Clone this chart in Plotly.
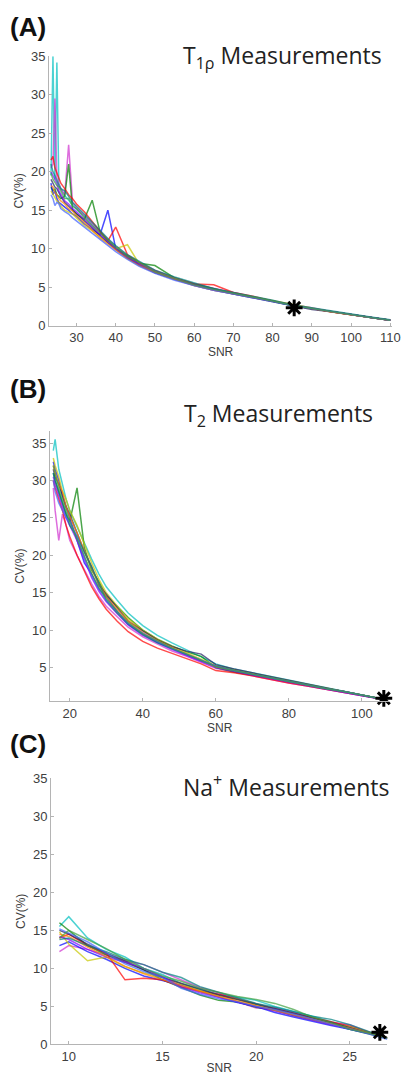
import plotly.graph_objects as go

# ---- data (SNR vs CV%) ----
A_SNR = [23.5, 24, 24.5, 25, 25.5, 26, 27, 28, 29, 30, 32, 34, 36, 38, 40, 43, 46, 50,
         55, 60, 65, 70, 75, 80, 85, 90, 95, 100, 105, 110]
A_CV = [
    [19.5, 35.0, 19.0, 34.2, 18.5, 17.8, 16.9, 16.3, 15.7, 15.1, 14.2, 13.1, 12.2, 11.1, 10.2, 9.0, 8.1, 7.1, 6.2, 5.4, 4.8, 4.2, 3.7, 3.2, 2.6, 2.2, 1.8, 1.4, 1.05, 0.7],
    [20.5, 21.0, 29.5, 19.2, 18.4, 17.8, 17.0, 23.5, 16.0, 15.3, 14.3, 13.2, 12.2, 11.2, 10.3, 9.1, 8.2, 7.2, 6.2, 5.4, 4.8, 4.3, 3.7, 3.2, 2.7, 2.3, 1.8, 1.4, 1.05, 0.7],
    [18.0, 17.5, 17.8, 17.0, 16.8, 16.5, 16.8, 21.0, 15.0, 14.5, 13.8, 16.3, 12.2, 11.0, 10.0, 9.0, 8.1, 7.8, 6.2, 5.4, 4.8, 4.2, 3.7, 3.2, 2.6, 2.2, 1.8, 1.4, 1.05, 0.7],
    [18.5, 17.0, 17.5, 16.5, 16.0, 15.8, 15.5, 15.0, 14.5, 14.2, 13.2, 12.5, 11.8, 15.0, 10.0, 8.8, 7.9, 6.9, 6.0, 5.2, 4.6, 4.1, 3.6, 3.1, 2.6, 2.2, 1.8, 1.4, 1.05, 0.7],
    [21.5, 22.0, 20.5, 19.8, 19.0, 18.5, 17.8, 17.0, 16.5, 15.8, 14.8, 13.5, 12.3, 11.0, 12.8, 9.2, 8.2, 7.1, 6.2, 5.4, 5.3, 4.3, 3.8, 3.2, 2.7, 2.2, 1.8, 1.4, 1.05, 0.7],
    [17.5, 17.0, 16.5, 16.2, 16.0, 15.5, 15.0, 14.8, 14.5, 14.0, 13.0, 12.3, 11.5, 10.8, 10.0, 10.5, 8.0, 7.0, 6.1, 5.3, 4.7, 4.2, 3.7, 3.2, 2.7, 2.2, 1.8, 1.4, 1.05, 0.7],
    [19.0, 18.5, 18.0, 17.8, 17.2, 16.8, 16.0, 15.5, 15.0, 14.6, 13.6, 12.7, 11.7, 10.8, 9.9, 8.8, 7.9, 6.9, 6.0, 5.3, 4.7, 4.1, 3.6, 3.1, 2.6, 2.1, 1.8, 1.4, 1.05, 0.7],
    [20.0, 19.5, 19.0, 18.5, 17.5, 17.0, 16.2, 15.8, 15.2, 14.8, 13.8, 12.9, 11.9, 10.9, 10.0, 8.9, 8.0, 7.0, 6.1, 5.3, 4.7, 4.2, 3.7, 3.2, 2.6, 2.2, 1.8, 1.4, 1.05, 0.7],
    [18.2, 18.0, 17.3, 17.0, 16.5, 16.2, 15.8, 15.2, 14.9, 14.3, 13.4, 12.4, 11.4, 10.6, 9.8, 8.7, 7.8, 6.9, 6.0, 5.2, 4.6, 4.1, 3.6, 3.1, 2.6, 2.2, 1.75, 1.4, 1.05, 0.7],
    [21.0, 20.0, 19.5, 18.8, 18.2, 17.8, 17.5, 16.8, 16.0, 15.5, 14.5, 13.4, 12.4, 11.3, 10.4, 9.2, 8.3, 7.2, 6.3, 5.5, 4.8, 4.3, 3.8, 3.3, 2.7, 2.3, 1.85, 1.45, 1.1, 0.75],
    [17.0, 16.5, 15.6, 16.0, 15.8, 15.2, 14.8, 14.5, 14.0, 13.6, 12.8, 12.0, 11.2, 10.4, 9.6, 8.6, 7.7, 6.8, 5.9, 5.2, 4.6, 4.1, 3.6, 3.1, 2.6, 2.2, 1.8, 1.4, 1.05, 0.7],
    [19.8, 19.0, 18.6, 18.2, 18.0, 17.5, 16.5, 16.5, 15.5, 15.2, 14.0, 13.0, 12.0, 11.1, 10.2, 9.0, 8.2, 7.0, 6.1, 5.3, 4.7, 4.2, 3.7, 3.2, 2.6, 2.2, 1.8, 1.4, 1.05, 0.7],
]
A_STAR = (85.5, 2.3)

B_SNR = [15.5, 16, 17, 18, 19, 20, 22, 24, 26, 28, 30, 33, 36, 40, 44, 48, 52, 56, 60,
         65, 70, 75, 80, 85, 90, 95, 100, 104, 106.5]
B_CV = [
    [34.0, 35.5, 31.5, 29.5, 27.5, 26.0, 23.8, 21.6, 19.5, 17.5, 15.8, 14.0, 12.3, 10.6, 9.3, 8.3, 7.4, 6.5, 5.5, 4.8, 4.3, 3.8, 3.3, 2.8, 2.3, 1.85, 1.35, 0.95, 0.7],
    [29.0, 26.0, 22.0, 25.5, 24.0, 22.0, 20.0, 18.0, 16.2, 14.5, 13.2, 11.8, 10.4, 9.1, 8.1, 7.2, 6.5, 5.7, 4.9, 4.4, 3.9, 3.4, 2.95, 2.55, 2.1, 1.7, 1.25, 0.9, 0.7],
    [31.0, 30.0, 28.5, 27.0, 25.5, 24.5, 29.0, 21.0, 18.0, 16.5, 14.6, 13.2, 11.7, 10.0, 8.8, 7.9, 7.1, 6.5, 5.0, 4.4, 4.0, 3.6, 3.1, 2.7, 2.2, 1.8, 1.3, 0.95, 0.7],
    [32.5, 31.5, 30.0, 28.0, 26.5, 25.0, 22.0, 19.0, 17.5, 15.5, 14.5, 12.5, 10.8, 9.5, 8.4, 7.5, 6.7, 5.9, 5.2, 4.6, 4.1, 3.6, 3.1, 2.7, 2.2, 1.8, 1.3, 0.95, 0.7],
    [30.0, 29.0, 27.5, 26.0, 24.0, 22.5, 20.0, 17.8, 15.8, 14.2, 12.8, 11.2, 9.8, 8.5, 7.6, 6.9, 6.2, 5.5, 4.6, 4.3, 3.9, 3.4, 2.95, 2.55, 2.1, 1.7, 1.25, 0.9, 0.7],
    [33.0, 32.0, 30.5, 28.5, 27.5, 26.0, 24.0, 21.5, 19.0, 16.8, 15.0, 13.2, 11.5, 10.0, 8.8, 7.8, 7.0, 6.2, 5.3, 4.7, 4.2, 3.7, 3.2, 2.75, 2.25, 1.8, 1.35, 0.95, 0.7],
    [31.5, 30.5, 29.5, 28.0, 26.5, 25.5, 23.0, 20.5, 18.5, 16.0, 14.8, 13.0, 11.2, 9.9, 8.7, 7.8, 7.2, 6.8, 5.4, 4.8, 4.3, 3.8, 3.2, 2.8, 2.25, 1.8, 1.3, 0.95, 0.7],
    [30.5, 29.5, 28.0, 26.5, 25.0, 24.0, 22.0, 19.5, 17.0, 15.2, 13.8, 12.2, 10.7, 9.3, 8.3, 7.4, 6.6, 5.8, 5.0, 4.5, 4.0, 3.5, 3.0, 2.6, 2.15, 1.75, 1.25, 0.9, 0.7],
    [32.0, 31.0, 29.5, 28.5, 26.5, 25.2, 23.0, 20.5, 18.2, 16.2, 14.5, 12.8, 11.2, 9.7, 8.6, 7.7, 6.9, 6.0, 5.1, 4.6, 4.1, 3.6, 3.1, 2.7, 2.2, 1.8, 1.3, 0.95, 0.7],
    [31.0, 30.0, 28.5, 27.0, 25.5, 24.0, 22.5, 20.5, 18.5, 16.3, 14.0, 12.3, 10.8, 9.4, 8.3, 7.5, 6.8, 6.0, 5.2, 4.6, 4.1, 3.6, 3.1, 2.7, 2.2, 1.8, 1.3, 0.95, 0.7],
    [30.0, 28.5, 27.0, 26.0, 25.0, 24.5, 22.5, 19.8, 17.2, 15.5, 14.0, 12.5, 10.9, 9.6, 8.5, 7.6, 6.8, 5.9, 5.2, 4.6, 4.1, 3.6, 3.1, 2.7, 2.2, 1.8, 1.3, 0.95, 0.7],
    [32.0, 31.0, 29.0, 27.5, 26.0, 24.5, 22.2, 19.8, 17.6, 15.7, 14.2, 12.5, 11.0, 9.5, 8.5, 7.6, 6.8, 6.0, 5.1, 4.6, 4.1, 3.6, 3.1, 2.7, 2.2, 1.8, 1.3, 0.95, 0.7],
]
B_STAR = (106.0, 0.9)

C_SNR = [9.5, 10, 11, 12, 13, 14, 15, 16, 17, 18, 19, 20, 21, 22, 23, 24, 25, 26, 26.5, 27]
C_CV = [
    [15.5, 16.8, 14.0, 12.5, 11.5, 10.0, 9.2, 8.0, 7.3, 6.6, 6.2, 5.8, 5.0, 4.4, 3.7, 3.0, 2.3, 1.6, 1.2, 0.9],
    [12.2, 13.0, 12.5, 11.8, 11.0, 10.5, 9.5, 8.5, 7.5, 6.8, 5.6, 4.8, 4.8, 4.2, 3.4, 2.9, 2.6, 1.6, 1.2, 0.9],
    [16.0, 15.0, 13.0, 11.8, 10.8, 9.8, 8.5, 7.5, 6.5, 5.8, 5.6, 4.9, 4.5, 3.8, 3.3, 2.7, 2.0, 1.4, 1.1, 0.8],
    [13.0, 13.5, 12.2, 11.2, 10.0, 9.0, 8.4, 7.8, 7.0, 6.2, 5.5, 5.0, 4.2, 3.6, 3.1, 2.5, 2.0, 1.5, 1.2, 0.9],
    [14.0, 14.5, 13.0, 12.0, 8.5, 8.7, 8.5, 7.6, 7.0, 6.6, 6.0, 5.3, 4.7, 4.1, 3.6, 3.0, 2.4, 1.6, 1.3, 0.9],
    [14.8, 13.2, 11.0, 11.5, 10.2, 9.4, 8.8, 7.9, 7.1, 6.4, 5.9, 5.2, 4.6, 4.0, 3.5, 2.8, 2.3, 1.6, 1.2, 0.9],
    [15.0, 14.5, 13.2, 12.0, 11.0, 9.8, 8.8, 8.0, 7.3, 6.5, 5.9, 5.3, 4.7, 4.1, 3.5, 2.9, 2.2, 1.5, 1.1, 0.8],
    [14.2, 13.8, 12.5, 11.5, 10.8, 10.0, 8.9, 7.6, 6.8, 6.2, 5.6, 5.0, 4.4, 3.8, 3.2, 2.6, 2.1, 1.4, 1.1, 0.8],
    [14.5, 14.2, 12.8, 11.5, 10.3, 9.3, 8.5, 7.8, 7.0, 6.3, 5.7, 5.1, 4.5, 3.9, 3.3, 2.7, 2.1, 1.5, 1.2, 0.9],
    [13.8, 14.0, 13.0, 12.2, 11.2, 10.5, 9.5, 8.8, 7.6, 6.9, 6.2, 5.4, 4.9, 4.3, 3.7, 3.3, 2.6, 1.7, 1.3, 0.9],
    [15.2, 14.6, 13.5, 12.0, 10.6, 9.6, 8.8, 7.4, 6.6, 6.0, 5.6, 5.0, 4.6, 4.0, 3.3, 2.6, 2.0, 1.4, 1.0, 0.7],
    [14.0, 15.0, 13.8, 12.6, 11.2, 10.0, 9.0, 8.3, 7.4, 6.8, 6.3, 5.9, 5.4, 4.6, 3.6, 2.9, 2.0, 1.5, 1.2, 0.8],
]
C_STAR = (26.6, 1.6)

LINE_COLORS = ["#00c0c0", "#d030d0", "#008000", "#0000ff", "#ff0000", "#c8c800",
               "#202060", "#8000ff", "#ff8000", "#008080", "#4060ff", "#40a040"]

TITLES = ["T<sub>1ρ</sub> Measurements", "T<sub>2</sub> Measurements", "Na<sup>+</sup> Measurements"]
LABELS = ["(A)", "(B)", "(C)"]

W, H = 412, 1087

# pixel boxes of each axes: (left, right, top, bottom)
boxes = [(50, 400, 50, 323), (51, 397, 430, 704), (52, 395, 782, 1052)]
xranges = [[23, 110.5], [14.6, 107.5], [9.05, 27]]
yranges = [[0, 35], [0.5, 36.6], [0, 35]]
xticks = [list(range(30, 111, 10)), list(range(20, 101, 20)), [10, 15, 20, 25]]
yticks = [list(range(0, 36, 5)), list(range(5, 36, 5)), list(range(0, 36, 5))]
title_pos = [(392, 50), (382, 413), (400, 790)]
label_pos = [(8, 20), (8, 387), (8, 747)]

fig = go.Figure()
panels = [(A_SNR, A_CV, A_STAR), (B_SNR, B_CV, B_STAR), (C_SNR, C_CV, C_STAR)]

for i, (snr, curves, star) in enumerate(panels):
    xa = "x" if i == 0 else f"x{i+1}"
    ya = "y" if i == 0 else f"y{i+1}"
    for j, cv in enumerate(curves):
        fig.add_trace(go.Scatter(x=snr, y=cv, mode="lines", xaxis=xa, yaxis=ya,
                                 line=dict(color=LINE_COLORS[j % len(LINE_COLORS)], width=1.5),
                                 opacity=0.7, showlegend=False, hoverinfo="skip"))
    fig.add_trace(go.Scatter(x=[star[0]], y=[star[1]], mode="markers", xaxis=xa, yaxis=ya,
                             marker=dict(symbol="asterisk-open", size=14, color="black",
                                         line=dict(color="black", width=3)),
                             cliponaxis=False, showlegend=False))

    l, r, t, b = boxes[i]
    axis_common = dict(showline=True, linecolor="#b4b4b4", linewidth=1, ticks="inside",
                       ticklen=3, tickcolor="#b4b4b4", showgrid=False, zeroline=False,
                       tickfont=dict(family="Liberation Sans", size=13, color="#404040"))
    fig.layout[("xaxis" if i == 0 else f"xaxis{i+1}")] = dict(
        domain=[l / W, r / W], anchor=ya, range=xranges[i], tickvals=xticks[i],
        title=dict(text="SNR", font=dict(family="Liberation Sans", size=12, color="#404040"),
                   standoff=0),
        **axis_common)
    fig.layout[("yaxis" if i == 0 else f"yaxis{i+1}")] = dict(
        domain=[1 - b / H, 1 - t / H], anchor=xa, range=yranges[i], tickvals=yticks[i],
        title=dict(text="CV(%)", font=dict(family="Liberation Sans", size=12, color="#404040"),
                   standoff=4),
        **axis_common)

    tx, ty = title_pos[i]
    fig.add_annotation(x=tx / W, y=1 - ty / H, xref="paper", yref="paper", text=TITLES[i],
                       showarrow=False, xanchor="right", yanchor="middle",
                       font=dict(family="Open Sans", size=23, color="#222222"))
    lx, ly = label_pos[i]
    fig.add_annotation(x=lx / W, y=1 - ly / H, xref="paper", yref="paper",
                       text="<b>" + LABELS[i] + "</b>", showarrow=False,
                       xanchor="left", yanchor="middle",
                       font=dict(family="Liberation Sans", size=26, color="#111111"))

fig.update_layout(width=W, height=H, margin=dict(l=0, r=0, t=0, b=0),
                  plot_bgcolor="white", paper_bgcolor="white")

# drop the browser's default 8px body margin so the figure fills the window exactly
fig.write_html("out.html", config={"displayModeBar": False},
               post_script="document.body.style.margin='0';")
